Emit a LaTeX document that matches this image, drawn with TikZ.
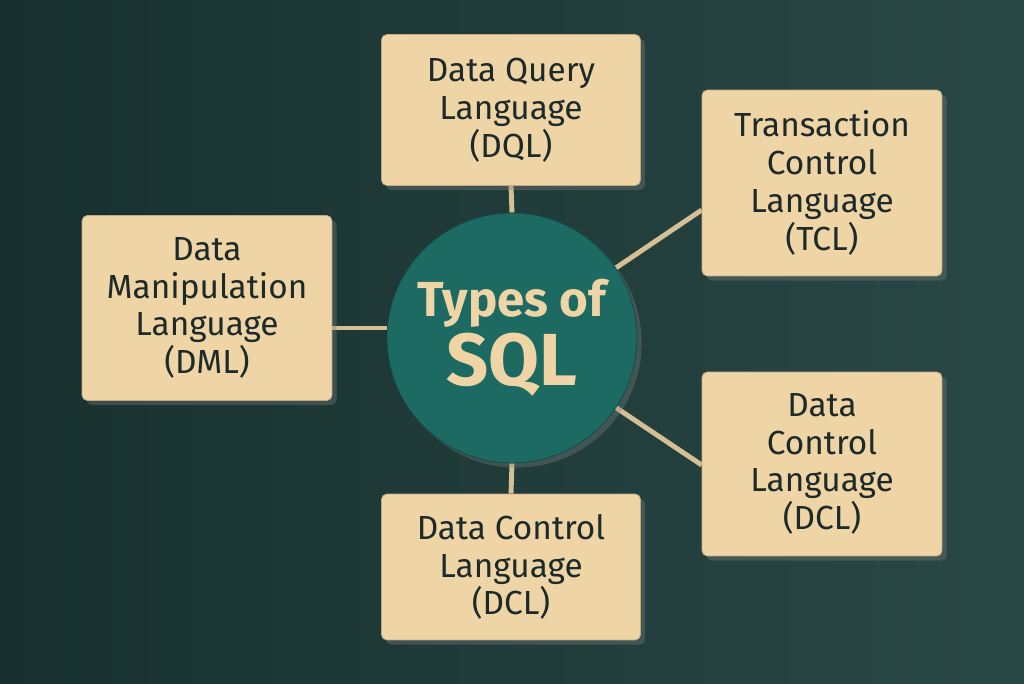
\documentclass[tikz,border=0pt]{standalone}
\usepackage{fontspec}
\setmainfont{Fira Sans}
\usepackage{tikz}
\usetikzlibrary{positioning}
\usetikzlibrary{calc}
\usetikzlibrary{shadows}
\definecolor{bgdark}{HTML}{17302D}
\definecolor{bglight}{HTML}{2A4846}
\definecolor{sand}{HTML}{EFD4A6}
\definecolor{ink}{HTML}{1C2A29}
\definecolor{hub}{HTML}{1C6A62}
\pgfdeclarelayer{back}
\pgfdeclarelayer{bg}
\pgfsetlayers{back,bg,main}

\begin{document}
\begin{tikzpicture}[x=0.02cm,y=-0.02cm,
	box/.style={fill=sand, draw=sand!80!black, rounded corners=3pt, align=center, text=ink, font=\fontsize{19}{21.5}\selectfont, inner sep=0pt, drop shadow={opacity=0.35}},
	link/.style={draw=sand!90!black, line width=2.8pt}]
	\begin{pgfonlayer}{back}
	\shade[left color=bgdark, right color=bglight] (0,0) rectangle (1024,683);
	\end{pgfonlayer}
	\useasboundingbox (0,0) rectangle (1024,683);
	\node[circle, fill=hub, draw=hub!70!black, minimum size=5cm, align=center, text=sand, drop shadow={opacity=0.35}] (sql) at (512,338) {\fontsize{28}{30}\selectfont\bfseries Types of\\[2pt]\fontsize{42}{44}\selectfont\bfseries SQL};
	\node[box, minimum width=5.18cm, minimum height=3.02cm] (dql) at (511,110) {Data Query\\Language\\(DQL)};
	\node[box, minimum width=4.8cm, minimum height=3.72cm] (tcl) at (822,183) {Transaction\\Control\\Language\\(TCL)};
	\node[box, minimum width=5cm, minimum height=3.7cm] (dml) at (207,308) {Data\\Manipulation\\Language\\(DML)};
	\node[box, minimum width=4.8cm, minimum height=3.68cm] (dclr) at (822,464) {Data\\Control\\Language\\(DCL)};
	\node[box, minimum width=5.18cm, minimum height=2.92cm] (dclb) at (511,567) {Data Control\\Language\\(DCL)};
	\begin{pgfonlayer}{bg}
	\draw[link] (dql.south) -- (sql.north);
	\draw[link] (dml.east |- 0,328) -- (sql.center |- 0,328);
	\draw[link] ($(tcl.west)+(0,27)$) -- (sql.center);
	\draw[link] ($(dclr.west)+(0,1)$) -- (sql.center);
	\draw[link] (dclb.north) -- (sql.south);
	\end{pgfonlayer}
\end{tikzpicture}
\end{document}
